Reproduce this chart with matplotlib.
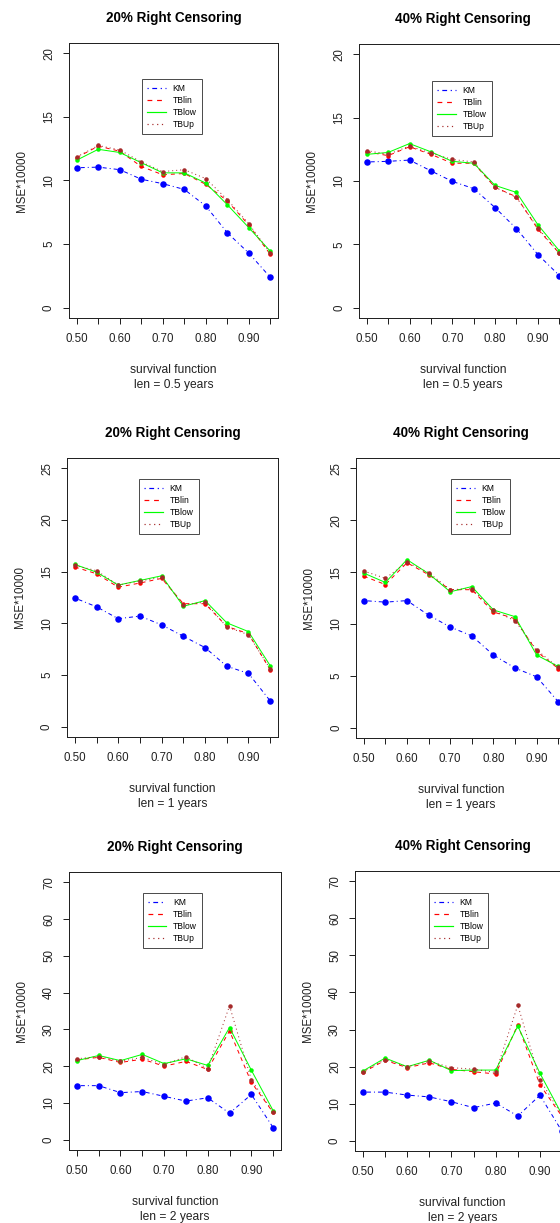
import matplotlib
matplotlib.use("Agg")
import matplotlib.pyplot as plt
from matplotlib.lines import Line2D

plt.rcParams['font.family'] = ['Liberation Sans', 'DejaVu Sans']

# ---------------- data ----------------
surv = [0.50, 0.55, 0.60, 0.65, 0.70, 0.75, 0.80, 0.85, 0.90, 0.95]
xtick_labels = ["0.50", "", "0.60", "", "0.70", "", "0.80", "", "0.90", ""]
series_names = ["KM", "TBlin", "TBlow", "TBUp"]

# 20% censoring, len = 0.5 years
km_20_05 = [11.0, 11.05, 10.85, 10.1, 9.75, 9.3, 8.0, 5.9, 4.3, 2.4]
tblin_20_05 = [11.8, 12.7, 12.3, 11.1, 10.45, 10.55, 9.7, 8.4, 6.5, 4.2]
tblow_20_05 = [11.6, 12.45, 12.2, 11.4, 10.6, 10.6, 9.8, 8.1, 6.3, 4.45]
tbup_20_05 = [11.85, 12.75, 12.4, 11.45, 10.7, 10.85, 10.15, 8.5, 6.6, 4.3]

# 40% censoring, len = 0.5 years
km_40_05 = [11.5, 11.55, 11.65, 10.8, 9.97, 9.4, 7.9, 6.24, 4.2, 2.55]
tblin_40_05 = [12.3, 12.0, 12.7, 12.1, 11.4, 11.4, 9.5, 8.75, 6.2, 4.3]
tblow_40_05 = [12.1, 12.25, 12.95, 12.3, 11.55, 11.4, 9.65, 9.1, 6.55, 4.5]
tbup_40_05 = [12.4, 12.1, 12.75, 12.2, 11.7, 11.5, 9.5, 8.7, 6.3, 4.3]

# 20% censoring, len = 1 year
km_20_1 = [12.45, 11.6, 10.45, 10.7, 9.85, 8.75, 7.65, 5.85, 5.15, 2.5]
tblin_20_1 = [15.45, 14.8, 13.5, 13.9, 14.35, 11.9, 11.9, 9.7, 9.0, 5.5]
tblow_20_1 = [15.7, 14.95, 13.7, 14.15, 14.6, 11.65, 12.2, 10.05, 9.2, 5.9]
tbup_20_1 = [15.6, 15.1, 13.7, 14.1, 14.45, 11.8, 12.05, 9.65, 8.9, 5.6]

# 40% censoring, len = 1 year
km_40_1 = [12.25, 12.1, 12.25, 10.85, 9.7, 8.85, 7.0, 5.75, 4.9, 2.5]
tblin_40_1 = [14.6, 13.8, 15.9, 14.75, 13.3, 13.3, 11.15, 10.5, 7.35, 5.7]
tblow_40_1 = [14.9, 14.0, 16.2, 14.85, 13.1, 13.6, 11.35, 10.7, 7.0, 5.9]
tbup_40_1 = [15.1, 14.4, 15.95, 14.95, 13.3, 13.4, 11.3, 10.3, 7.5, 5.8]

# 20% censoring, len = 2 years
km_20_2 = [14.7, 14.7, 12.8, 13.1, 11.8, 10.5, 11.4, 7.2, 12.3, 3.3]
tblin_20_2 = [21.7, 22.4, 21.0, 21.9, 20.0, 21.3, 19.1, 29.6, 15.6, 7.4]
tblow_20_2 = [21.5, 22.9, 21.5, 23.2, 20.7, 22.0, 20.2, 30.5, 18.9, 7.9]
tbup_20_2 = [22.0, 22.6, 21.3, 22.4, 20.4, 22.6, 19.3, 36.4, 16.3, 7.5]

# 40% censoring, len = 2 years
km_40_2 = [13.1, 13.1, 12.3, 11.8, 10.5, 8.9, 10.15, 6.65, 12.25, 2.5]
tblin_40_2 = [18.4, 21.7, 19.7, 21.0, 19.25, 18.6, 18.0, 31.3, 15.1, 6.5]
tblow_40_2 = [18.8, 22.3, 19.95, 21.7, 18.9, 19.05, 19.05, 30.9, 18.2, 7.0]
tbup_40_2 = [18.6, 21.9, 19.95, 21.4, 19.7, 19.3, 18.4, 36.6, 16.45, 6.8]

titles = ["20% Right Censoring", "40% Right Censoring"]
len_labels = ["len = 0.5 years", "len = 1 years", "len = 2 years"]
yticks_rows = [[0, 5, 10, 15, 20], [0, 5, 10, 15, 20, 25], [0, 10, 20, 30, 40, 50, 60, 70]]

# ---------------- styling ----------------
colors = ["#0000FF", "#FF0000", "#00FF00", "#A52A2A"]
styles = [(0, (1, 3, 4, 3)), (0, (4, 4)), "solid", (0, (1, 3))]
msizes = [6.5, 4.5, 4.5, 4.5]

W, H = 560, 1223
fig = plt.figure(figsize=(W / 72, H / 72), dpi=72)

# axes boxes in pixels: left, right, top, bottom
boxes = [
    (69, 278, 43, 318), (359, 567, 44, 318),
    (67, 278, 458, 737), (356, 566, 458, 738),
    (69, 281, 872, 1150), (355, 570, 871, 1151),
]
legend_anchor = [
    (0.349, 0.869), (0.351, 0.866),
    (0.341, 0.925), (0.452, 0.925),
    (0.347, 0.924), (0.343, 0.922),
]

panels = [
    [km_20_05, tblin_20_05, tblow_20_05, tbup_20_05],
    [km_40_05, tblin_40_05, tblow_40_05, tbup_40_05],
    [km_20_1, tblin_20_1, tblow_20_1, tbup_20_1],
    [km_40_1, tblin_40_1, tblow_40_1, tbup_40_1],
    [km_20_2, tblin_20_2, tblow_20_2, tbup_20_2],
    [km_40_2, tblin_40_2, tblow_40_2, tbup_40_2],
]

for i, (box, series) in enumerate(zip(boxes, panels)):
    l, r, t, b = box
    ax = fig.add_axes([l / W, 1 - b / H, (r - l) / W, (b - t) / H])
    row, col = divmod(i, 2)
    yt = yticks_rows[row]
    for vals, name, c, ls, ms in zip(series, series_names, colors, styles, msizes):
        ax.plot(surv, vals, color=c, linestyle=ls, linewidth=1.0,
                marker="o", markersize=ms, markeredgewidth=0)
    ymax = yt[-1]
    ax.set_ylim(-0.04 * ymax, 1.04 * ymax)
    ax.set_xlim(0.5 - 0.04 * 0.45, 0.95 + 0.04 * 0.45)
    ax.set_xticks(surv)
    ax.set_xticklabels(xtick_labels)
    ax.set_yticks(yt)
    ax.set_yticklabels([str(v) for v in yt], rotation=90, va="center")
    ax.tick_params(axis="both", direction="out", length=6, width=1,
                   labelsize=11.5, colors="#222222")
    ax.tick_params(axis="y", pad=8)
    ax.tick_params(axis="x", pad=9)
    for s in ax.spines.values():
        s.set_linewidth(1.0)
        s.set_color("#222222")
    proxies = [Line2D([0], [0], color=c, linestyle=ls, linewidth=1.2)
               for c, ls in zip(colors, styles)]
    leg = ax.legend(proxies, series_names, loc="upper left",
                    bbox_to_anchor=legend_anchor[i],
                    fontsize=8.5, frameon=True, fancybox=False,
                    edgecolor="#222222", borderaxespad=0, borderpad=0.6,
                    labelspacing=0.35, handlelength=2.2, handletextpad=0.8)
    leg.get_frame().set_linewidth(1.0)
    ax.set_title(titles[col], fontsize=13.5, fontweight="bold", pad=21)
    ax.set_xlabel("survival function\n" + len_labels[row], fontsize=12,
                  labelpad=19, linespacing=1.3, color="#222222")
    ax.set_ylabel("MSE*10000", fontsize=11.5, labelpad=15, color="#222222")

fig.savefig("out.png", dpi=72)
